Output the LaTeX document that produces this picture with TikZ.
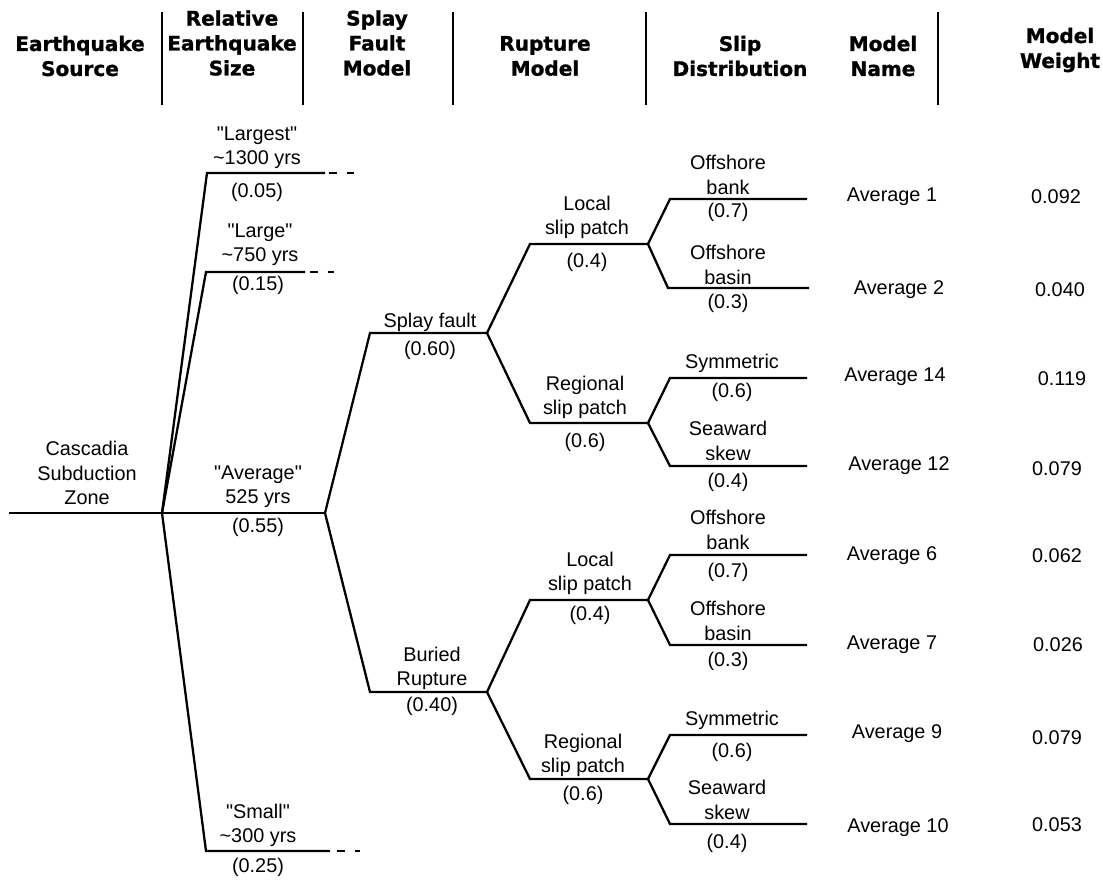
\documentclass[tikz,border=0pt]{standalone}
\usepackage{fontspec}
\setmainfont{Liberation Sans}
\newfontfamily\headfont[BoldFeatures={FakeBold=1.2}]{DejaVu Sans}
\newcommand\dq{\XeTeXglyph\XeTeXglyphindex "quotedbl"\relax}

\begin{document}
\begin{tikzpicture}[x=0.02cm, y=-0.02cm,
    lbl/.style={font=\fontsize{11.3}{13.8}\selectfont, inner sep=0pt, align=center},
    hd/.style={font=\headfont\bfseries\fontsize{11.4}{14.2}\selectfont, inner sep=0pt, align=center},
    br/.style={line width=1.3pt, line join=miter},
    dsh/.style={line width=1.3pt, dash pattern=on 4.5pt off 5.5pt},
    sep/.style={line width=0.8pt}]

    \useasboundingbox (0,0) rectangle (1103,880);

    % column headings
    \node[hd] (hsrc)   at (80, 56)   {Earthquake\\Source};
    \node[hd] (hsize)  at (232, 43)  {Relative\\Earthquake\\Size};
    \node[hd] (hsplay) at (377, 43)  {Splay\\Fault\\Model};
    \node[hd] (hrup)   at (545, 56)  {Rupture\\Model};
    \node[hd] (hslip)  at (740, 56)  {Slip\\Distribution};
    \node[hd] (hname)  at (883, 56)  {Model\\Name};
    \node[hd] (hwt)    at (1060, 50) {Model\\Weight};
    \coordinate (s1a) at (162, 12); \coordinate (s1b) at (162, 105);
    \coordinate (s2a) at (303, 12); \coordinate (s2b) at (303, 105);
    \coordinate (s3a) at (453, 12); \coordinate (s3b) at (453, 105);
    \coordinate (s4a) at (646, 12); \coordinate (s4b) at (646, 105);
    \coordinate (s5a) at (938, 12); \coordinate (s5b) at (938, 105);
    \draw[sep] (s1a) -- (s1b);
    \draw[sep] (s2a) -- (s2b);
    \draw[sep] (s3a) -- (s3b);
    \draw[sep] (s4a) -- (s4b);
    \draw[sep] (s5a) -- (s5b);

    % earthquake source
    \coordinate (r0) at (9, 513);
    \coordinate (a)  at (162, 513);
    \node[lbl] (src) at (87, 473) {Cascadia\\Subduction\\Zone};
    \draw[br] (r0) -- (a);

    % relative size
    \coordinate (l1s) at (207, 173); \coordinate (l1e) at (325, 173);
    \coordinate (l1d) at (329, 173); \coordinate (l1f) at (358, 173);
    \coordinate (l2s) at (206, 272); \coordinate (l2e) at (305, 272);
    \coordinate (l2d) at (310, 272); \coordinate (l2f) at (334, 272);
    \coordinate (b)   at (325, 513);
    \coordinate (l4s) at (206, 851); \coordinate (l4e) at (330, 851);
    \coordinate (l4d) at (337, 851); \coordinate (l4f) at (360, 851);
    \draw[br] (a) -- (l1s) -- (l1e);
    \draw[br] (a) -- (l2s) -- (l2e);
    \draw[br] (a) -- (b);
    \draw[br] (a) -- (l4s) -- (l4e);
    \draw[dsh] (l1d) -- (l1f);
    \draw[dsh] (l2d) -- (l2f);
    \draw[dsh] (l4d) -- (l4f);
    \node[lbl] (tlargest) at (257, 148) {\dq Largest\dq\\\textasciitilde1300 yrs};
    \node[lbl] (plargest) at (257, 192) {(0.05)};
    \node[lbl] (tlarge)   at (260, 245) {\dq Large\dq\\\textasciitilde750 yrs};
    \node[lbl] (plarge)   at (258, 285) {(0.15)};
    \node[lbl] (tavg)     at (258, 487) {\dq Average\dq\\525 yrs};
    \node[lbl] (pavg)     at (258, 527) {(0.55)};
    \node[lbl] (tsmall)   at (258, 825) {\dq Small\dq\\\textasciitilde300 yrs};
    \node[lbl] (psmall)   at (258, 867) {(0.25)};

    % splay fault model
    \coordinate (c0) at (370, 333); \coordinate (c) at (487, 333);
    \coordinate (f0) at (370, 692); \coordinate (f) at (487, 692);
    \draw[br] (b) -- (c0) -- (c);
    \draw[br] (b) -- (f0) -- (f);
    \node[lbl] (tsplay)  at (430, 322) {Splay fault};
    \node[lbl] (psplay)  at (430, 350) {(0.60)};
    \node[lbl] (tburied) at (432, 668) {Buried\\Rupture};
    \node[lbl] (pburied) at (432, 706) {(0.40)};

    % rupture model
    \coordinate (d0) at (530, 244); \coordinate (d) at (648, 244);
    \coordinate (e0) at (530, 423); \coordinate (e) at (648, 423);
    \coordinate (g0) at (530, 600); \coordinate (g) at (648, 600);
    \coordinate (h0) at (530, 779); \coordinate (h) at (648, 779);
    \draw[br] (c) -- (d0) -- (d);
    \draw[br] (c) -- (e0) -- (e);
    \draw[br] (f) -- (g0) -- (g);
    \draw[br] (f) -- (h0) -- (h);
    \node[lbl] (tloc1) at (587, 217) {Local\\slip patch};
    \node[lbl] (ploc1) at (587, 262) {(0.4)};
    \node[lbl] (treg1) at (585, 397) {Regional\\slip patch};
    \node[lbl] (preg1) at (585, 442) {(0.6)};
    \node[lbl] (tloc2) at (590, 573) {Local\\slip patch};
    \node[lbl] (ploc2) at (590, 615) {(0.4)};
    \node[lbl] (treg2) at (583, 755) {Regional\\slip patch};
    \node[lbl] (preg2) at (583, 795) {(0.6)};

    % slip distribution
    \coordinate (d1s) at (670, 199); \coordinate (d1e) at (807, 199);
    \coordinate (d2s) at (668, 288); \coordinate (d2e) at (809, 288);
    \coordinate (e1s) at (670, 378); \coordinate (e1e) at (807, 378);
    \coordinate (e2s) at (670, 466); \coordinate (e2e) at (807, 466);
    \coordinate (g1s) at (670, 555); \coordinate (g1e) at (807, 555);
    \coordinate (g2s) at (670, 645); \coordinate (g2e) at (807, 645);
    \coordinate (h1s) at (670, 735); \coordinate (h1e) at (807, 735);
    \coordinate (h2s) at (670, 824); \coordinate (h2e) at (807, 824);
    \draw[br] (d) -- (d1s) -- (d1e);
    \draw[br] (d) -- (d2s) -- (d2e);
    \draw[br] (e) -- (e1s) -- (e1e);
    \draw[br] (e) -- (e2s) -- (e2e);
    \draw[br] (g) -- (g1s) -- (g1e);
    \draw[br] (g) -- (g2s) -- (g2e);
    \draw[br] (h) -- (h1s) -- (h1e);
    \draw[br] (h) -- (h2s) -- (h2e);
    \node[lbl] (tbank1)  at (728, 175) {Offshore\\bank};
    \node[lbl] (pbank1)  at (728, 212) {(0.7)};
    \node[lbl] (tbasin1) at (728, 265) {Offshore\\basin};
    \node[lbl] (pbasin1) at (728, 303) {(0.3)};
    \node[lbl] (tsym1)   at (732, 363) {Symmetric};
    \node[lbl] (psym1)   at (732, 392) {(0.6)};
    \node[lbl] (tsea1)   at (728, 441) {Seaward\\skew};
    \node[lbl] (psea1)   at (728, 482) {(0.4)};
    \node[lbl] (tbank2)  at (728, 530) {Offshore\\bank};
    \node[lbl] (pbank2)  at (728, 572) {(0.7)};
    \node[lbl] (tbasin2) at (728, 621) {Offshore\\basin};
    \node[lbl] (pbasin2) at (728, 661) {(0.3)};
    \node[lbl] (tsym2)   at (732, 720) {Symmetric};
    \node[lbl] (psym2)   at (732, 752) {(0.6)};
    \node[lbl] (tsea2)   at (727, 800) {Seaward\\skew};
    \node[lbl] (psea2)   at (727, 843) {(0.4)};

    % model names and weights
    \node[lbl] (m1)  at (892, 197) {Average 1};
    \node[lbl] (m2)  at (899, 290) {Average 2};
    \node[lbl] (m14) at (895, 377) {Average 14};
    \node[lbl] (m12) at (899, 466) {Average 12};
    \node[lbl] (m6)  at (892, 556) {Average 6};
    \node[lbl] (m7)  at (892, 645) {Average 7};
    \node[lbl] (m9)  at (897, 734) {Average 9};
    \node[lbl] (m10) at (898, 828) {Average 10};
    \node[lbl] (w1)  at (1056, 197) {0.092};
    \node[lbl] (w2)  at (1060, 290) {0.040};
    \node[lbl] (w14) at (1062, 379) {0.119};
    \node[lbl] (w12) at (1057, 469) {0.079};
    \node[lbl] (w6)  at (1057, 556) {0.062};
    \node[lbl] (w7)  at (1058, 645) {0.026};
    \node[lbl] (w9)  at (1057, 738) {0.079};
    \node[lbl] (w10) at (1057, 825) {0.053};

\end{tikzpicture}
\end{document}
